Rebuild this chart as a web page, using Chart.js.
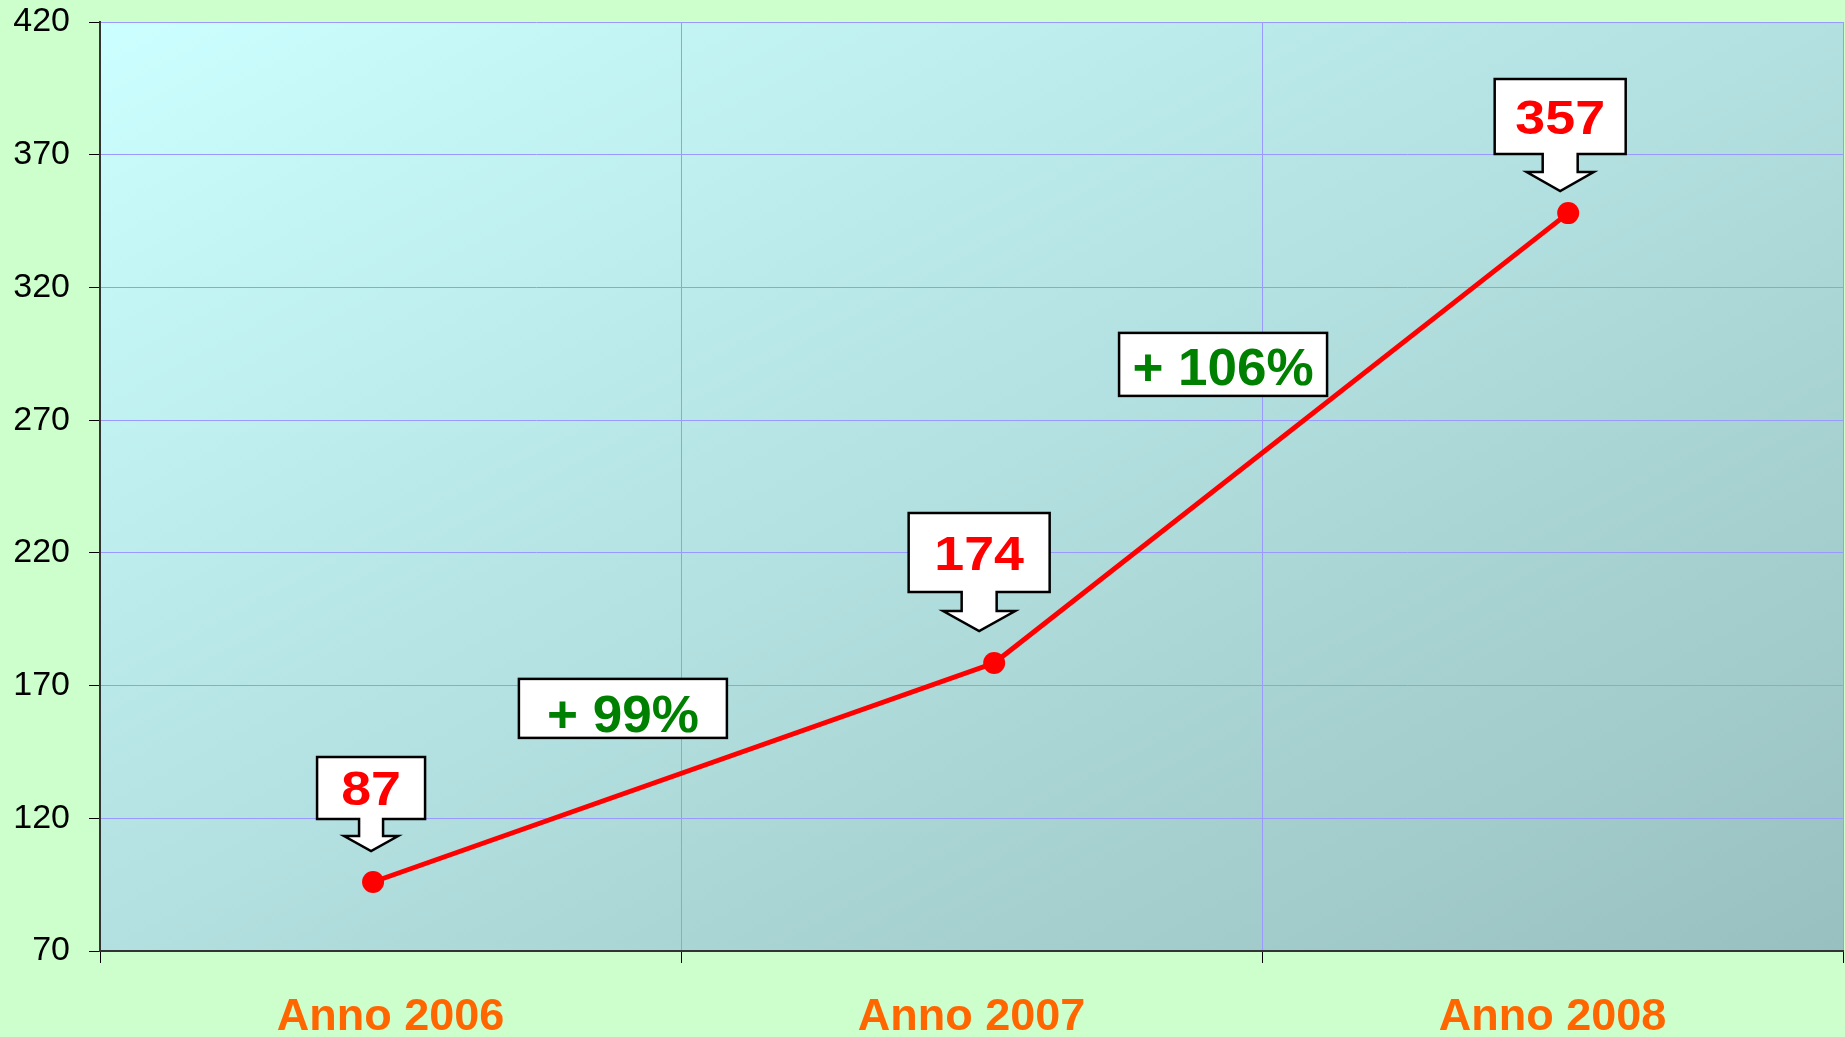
<!DOCTYPE html>
<html>
<head>
<meta charset="utf-8">
<script src="https://cdn.jsdelivr.net/npm/chart.js@4.4.1/dist/chart.umd.min.js"></script>
<style>
  html, body { margin: 0; padding: 0; background: #CCFFCC; overflow: hidden; }
  #wrap { width: 1845px; height: 1037px; position: relative; }
</style>
</head>
<body>
<div id="wrap"><canvas id="growthChart"></canvas></div>
<script>
/* ===== DATA ===== */
const CATEGORIES    = ['Anno 2006', 'Anno 2007', 'Anno 2008'];
const POINT_X       = [0.47, 1.539, 2.527];     // where each dot sits along the year band
const VALUES        = [96, 178.5, 348];         // plotted heights as drawn
const VALUE_LABELS  = ['87', '174', '357'];     // numbers in the arrow boxes
const GROWTH_LABELS = ['+ 99%', '+ 106%'];
const GROWTH_X      = [0.90, 1.933];
const GROWTH_Y      = [161.4, 291];
const Y_MIN = 70, Y_MAX = 420, Y_STEP = 50;
const X_TICKS = [0, 0.5, 1, 1.5, 2, 2.5, 3];

/* ===== STYLE ===== */
const GRID = '#9999FF';
const AXIS = '#333333';
const FONT = "'Liberation Sans', Arial, sans-serif";

// arrow-box shapes, one per point (pixels)
const CALLOUT = [
  {w: 108, h: 62, shaftW: 24, headW: 54, shaftH: 17, headH: 15, dx: -2,  gap: 31},
  {w: 141, h: 79, shaftW: 35, headW: 72, shaftH: 19, headH: 20, dx: -15, gap: 32},
  {w: 131, h: 75, shaftW: 35, headW: 67, shaftH: 18, headH: 19, dx: -8,  gap: 22}
];
const GROWTH_BOX = [{w: 208, h: 59, ty: 5}, {w: 208, h: 63, ty: 2}];

/* ===== HELPERS ===== */
function wideText(ctx, text, cx, cy, size, color, stretch) {
  ctx.save();
  ctx.font = `bold ${size}px ${FONT}`;
  ctx.fillStyle = color;
  ctx.textAlign = 'center';
  ctx.textBaseline = 'alphabetic';
  ctx.translate(cx, cy + size * 0.716 / 2);
  ctx.scale(stretch, 1);
  ctx.fillText(text, 0, 0);
  ctx.restore();
}

function arrowBox(ctx, px, py, c) {
  const tip = py - c.gap, cx = px + c.dx;
  const headTop = tip - c.headH, boxBot = headTop - c.shaftH, boxTop = boxBot - c.h;
  const l = cx - c.w / 2, r = cx + c.w / 2;
  ctx.beginPath();
  ctx.moveTo(l, boxTop);
  ctx.lineTo(r, boxTop);
  ctx.lineTo(r, boxBot);
  ctx.lineTo(cx + c.shaftW / 2, boxBot);
  ctx.lineTo(cx + c.shaftW / 2, headTop);
  ctx.lineTo(cx + c.headW / 2, headTop);
  ctx.lineTo(cx, tip);
  ctx.lineTo(cx - c.headW / 2, headTop);
  ctx.lineTo(cx - c.shaftW / 2, headTop);
  ctx.lineTo(cx - c.shaftW / 2, boxBot);
  ctx.lineTo(l, boxBot);
  ctx.closePath();
  ctx.fillStyle = '#FFFFFF';
  ctx.fill();
  ctx.lineWidth = 2.5;
  ctx.strokeStyle = '#000000';
  ctx.lineJoin = 'miter';
  ctx.stroke();
  return {cx, cy: boxTop + c.h / 2};
}

/* ===== PLUGINS ===== */
const backdrop = {
  id: 'backdrop',
  beforeDraw(chart) {
    const {ctx, chartArea: a} = chart;
    ctx.save();
    ctx.fillStyle = '#CCFFCC';
    ctx.fillRect(0, 0, chart.width, chart.height);
    const W = a.right - a.left, H = a.bottom - a.top;
    const k = 2 * W * H / (W * W + H * H);
    const g = ctx.createLinearGradient(a.left, a.top, a.left + k * H, a.top + k * W);
    g.addColorStop(0, '#CCFFFF');
    g.addColorStop(1, '#99C0C0');
    ctx.fillStyle = g;
    ctx.fillRect(a.left, a.top, W, H);
    ctx.restore();
  }
};

const callouts = {
  id: 'callouts',
  afterDatasetsDraw(chart) {
    const ctx = chart.ctx;
    const pts = chart.getDatasetMeta(0).data;
    pts.forEach((p, i) => {
      const c = arrowBox(ctx, p.x, p.y, CALLOUT[i]);
      wideText(ctx, VALUE_LABELS[i], c.cx, c.cy, 48, '#FF0000', 1.12);
    });
    const xs = chart.scales.x, ys = chart.scales.y;
    GROWTH_LABELS.forEach((t, i) => {
      const cx = xs.getPixelForValue(GROWTH_X[i]);
      const cy = ys.getPixelForValue(GROWTH_Y[i]);
      const b = GROWTH_BOX[i];
      ctx.save();
      ctx.fillStyle = '#FFFFFF';
      ctx.fillRect(cx - b.w / 2, cy - b.h / 2, b.w, b.h);
      ctx.lineWidth = 2.5;
      ctx.strokeStyle = '#000000';
      ctx.strokeRect(cx - b.w / 2, cy - b.h / 2, b.w, b.h);
      ctx.restore();
      wideText(ctx, t, cx, cy + b.ty, 51, '#008000', 1.04);
    });
  }
};

/* ===== CHART ===== */
new Chart(document.getElementById('growthChart'), {
  type: 'line',
  data: {
    datasets: [{
      data: VALUES.map((v, i) => ({x: POINT_X[i], y: v})),
      borderColor: '#FF0000',
      backgroundColor: '#FF0000',
      borderWidth: 5,
      pointRadius: 11,
      pointBorderWidth: 0,
      pointBackgroundColor: '#FF0000',
      tension: 0,
      clip: false
    }]
  },
  options: {
    responsive: true,
    maintainAspectRatio: false,
    animation: false,
    layout: {autoPadding: false, padding: {top: 22, right: 2, left: 0, bottom: 0}},
    plugins: {legend: {display: false}, tooltip: {enabled: false}},
    scales: {
      x: {
        type: 'linear',
        min: 0,
        max: 3,
        afterBuildTicks: s => { s.ticks = X_TICKS.map(v => ({value: v})); },
        afterFit: s => { s.height = 86; s.paddingLeft = 0; s.paddingRight = 0; },
        grid: {
          color: c => (c.tick && Number.isInteger(c.tick.value)) ? GRID : 'rgba(0,0,0,0)',
          tickColor: c => (c.tick && Number.isInteger(c.tick.value)) ? '#000000' : 'rgba(0,0,0,0)',
          tickLength: 12,
          lineWidth: 1
        },
        border: {color: AXIS, width: 2},
        ticks: {
          autoSkip: false,
          maxRotation: 0,
          padding: 28,
          color: '#FF6600',
          font: {family: FONT, size: 45, weight: 'bold'},
          callback: v => (v % 1 === 0.5 ? CATEGORIES[Math.floor(v)] : '')
        }
      },
      y: {
        min: Y_MIN,
        max: Y_MAX,
        afterFit: s => { s.width = 100; s.paddingTop = 0; s.paddingBottom = 0; },
        grid: {color: GRID, tickColor: '#000000', tickLength: 11, lineWidth: 1},
        border: {color: AXIS, width: 2},
        ticks: {
          stepSize: Y_STEP,
          padding: 19,
          color: '#000000',
          font: {family: FONT, size: 34}
        }
      }
    }
  },
  plugins: [backdrop, callouts]
});
</script>
</body>
</html>
